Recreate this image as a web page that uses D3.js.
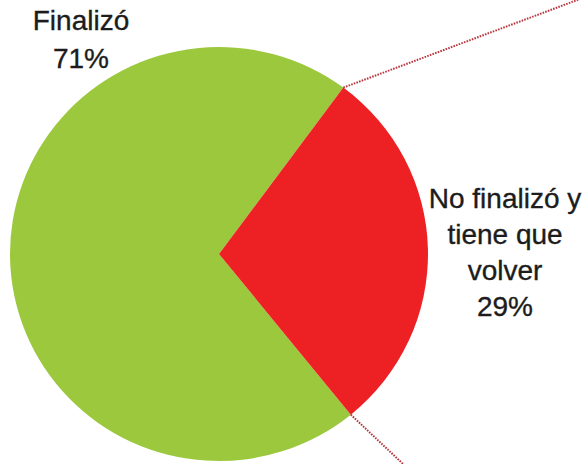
<!DOCTYPE html>
<html>
<head>
<meta charset="utf-8">
<script src="https://cdn.jsdelivr.net/npm/d3@7"></script>
<style>
  html, body { margin: 0; padding: 0; background: #ffffff; }
  svg { display: block; }
  text { font-family: "Liberation Sans", Arial, sans-serif; fill: #1c1c1c; stroke: #1c1c1c; stroke-width: 0.35px; }
</style>
</head>
<body>
<svg id="chart" width="586" height="464"></svg>
<script>
// ---- data ----
const categories = ["Finalizó", "No finalizó y tiene que volver"];
const values = [71, 29];
const valueLabels = ["71%", "29%"];
const labelLines = [["Finalizó", "71%"], ["No finalizó y", "tiene que", "volver", "29%"]];
const colors = ["#9BC83C", "#ED2024"];

// ---- layout ----
const W = 586, H = 464;
const cx = 219, cy = 254;
const rx = 209, ry = 207;
const svg = d3.select("#chart");

const redStartDeg = 36.5;
const total = d3.sum(values);
const redSpan = 360 * values[1] / total;
const startDeg = redStartDeg + redSpan; // green starts where red ends

const pie = d3.pie().sort(null).value(d => d)
  .startAngle(startDeg * Math.PI / 180)
  .endAngle(startDeg * Math.PI / 180 + 2 * Math.PI);
const arcs = pie(values);
const arc = d3.arc().innerRadius(0).outerRadius(rx);

const g = svg.append("g")
  .attr("transform", `translate(${cx},${cy}) scale(1,${ry / rx})`);

g.selectAll("path.slice")
  .data(arcs)
  .join("path")
  .attr("class", "slice")
  .attr("d", arc)
  .attr("fill", (d, i) => colors[i]);

// connector lines (pie-of-pie style) from the small slice edges
const red = arcs[1];
function edgePoint(a) {
  return [cx + rx * Math.sin(a), cy - ry * Math.cos(a)];
}
const p1 = edgePoint(red.startAngle);
const p2 = edgePoint(red.endAngle);
const dir1 = [235, -88], dir2 = [54, 51];
[[p1, dir1], [p2, dir2]].forEach(([p, d]) => {
  svg.append("line")
    .attr("x1", p[0]).attr("y1", p[1])
    .attr("x2", p[0] + d[0] * 2).attr("y2", p[1] + d[1] * 2)
    .attr("stroke", "#b8383f")
    .attr("stroke-width", 2)
    .attr("stroke-dasharray", "1.6,1.2");
});

// labels
const labelPos = [{x: 81, y: 30, step: 38}, {x: 505, y: 208, step: 36}];
labelLines.forEach((lines, i) => {
  const t = svg.append("text")
    .attr("text-anchor", "middle")
    .attr("font-size", 28);
  lines.forEach((ln, j) => {
    t.append("tspan")
      .attr("x", labelPos[i].x)
      .attr("y", labelPos[i].y + j * labelPos[i].step)
      .text(ln);
  });
});
</script>
</body>
</html>
